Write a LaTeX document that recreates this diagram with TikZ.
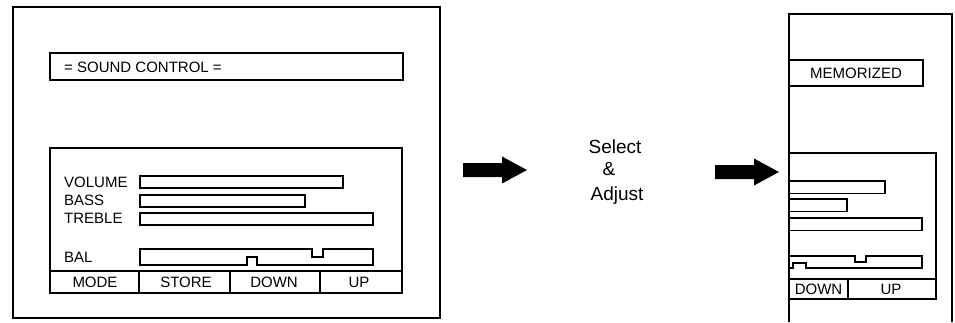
\documentclass[tikz,border=0pt]{standalone}
\usepackage{fontspec}
\setmainfont{Liberation Sans}
\usetikzlibrary{calc}

\begin{document}
\begin{tikzpicture}[x=1pt,y=-1pt,line join=miter]
\tikzset{
lbl/.style={font=\fontsize{15}{17}\selectfont,inner sep=0pt},
big/.style={font=\fontsize{19}{22}\selectfont,inner sep=0pt,anchor=base},
frm/.style={line width=1.7pt},
bar/.style={line width=1.4pt}
}
\useasboundingbox (0,0) rectangle (955,322);
% left screen
\draw[frm] (13,7) rectangle (440,318);
\draw[frm] (50,53) rectangle (403,80);
\node[lbl,anchor=west] (title) at (64,67) {= SOUND CONTROL =};
\draw[frm] (50,148) rectangle (402,293);
\draw[frm] (50,271) -- (402,271);
\foreach \x in {139,230,320}
\draw[frm] (\x,271) -- (\x,293);
\foreach \t/\x in {MODE/95,STORE/186,DOWN/274,UP/359}
\node[lbl] (b\t) at (\x,282.5) {\t};
\foreach \t/\y in {VOLUME/182,BASS/200,TREBLE/218,BAL/257}
\node[lbl,anchor=west] (l\t) at (64,\y) {\t};
\foreach \r/\y in {343/176,305/195,373/213}
\draw[bar] (140,\y) rectangle (\r,\y+12);
\draw[bar] (140,249) -- (312,249) -- (312,257) -- (323,257) -- (323,249) -- (373,249)
 -- (373,265) -- (257,265) -- (257,257) -- (247,257) -- (247,265) -- (140,265) -- cycle;
% arrows
\foreach \x/\y [count=\i] in {463/170,715/172}{
\coordinate (arr\i) at (\x,\y);
\fill (arr\i) ++(0,-7) -- ++(39,0) -- ++(0,-6.5) -- ++(25,13.5) -- ++(-25,13.5)
 -- ++(0,-6.5) -- ++(-39,0) -- cycle;
}
\foreach \t/\x/\y [count=\i] in {Select/615/153,\&/609/175,Adjust/617/200}
\node[big] (sa\i) at (\x,\y) {\t};
% right screen
\draw[frm] (789,322) -- (789,14) -- (952,14) -- (952,322);
\draw[frm] (789,60) rectangle (923,86);
\node[lbl] (memo) at (856,73) {MEMORIZED};
\draw[frm] (789,153) -- (936,153) -- (936,299) -- (789,299);
\draw[frm] (789,279) -- (936,279);
\draw[frm] (848,279) -- (848,299);
\node[lbl] (rDown) at (818.5,289) {DOWN};
\node[lbl] (rUp) at (891,289) {UP};
\foreach \r/\y in {885/181,847/199,922/218}
\draw[bar] (789,\y) -- (\r,\y) -- (\r,\y+12.5) -- (789,\y+12.5);
\draw[bar] (789,256) -- (855,256) -- (855,262) -- (866,262) -- (866,256) -- (922,256)
 -- (922,268) -- (806,268) -- (806,263) -- (793,263) -- (793,268) -- (789,268);
\end{tikzpicture}
\end{document}
